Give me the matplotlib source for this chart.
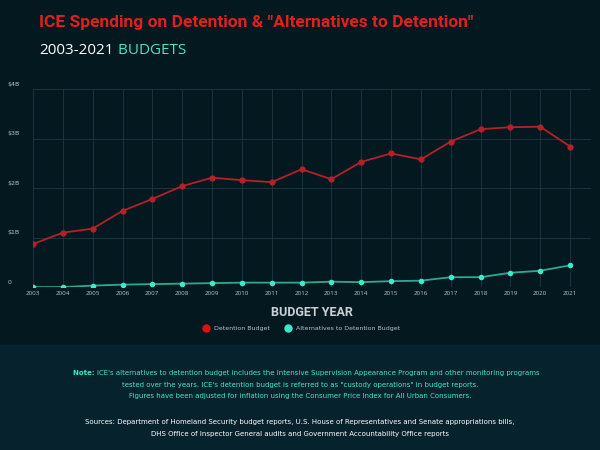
import matplotlib.pyplot as plt
from matplotlib.lines import Line2D

years = list(range(2003, 2022))
detention = [0.87, 1.10, 1.18, 1.54, 1.78, 2.04, 2.21, 2.16, 2.12, 2.38, 2.18,
             2.53, 2.70, 2.58, 2.94, 3.19, 3.23, 3.24, 2.84]
alternatives = [0.0, 0.0, 0.03, 0.05, 0.06, 0.07, 0.08, 0.09, 0.09, 0.09, 0.11,
                0.10, 0.12, 0.13, 0.20, 0.20, 0.29, 0.33, 0.44]
y_ticks = [0, 1, 2, 3, 4]
y_labels = ['0', '$1B', '$2B', '$3B', '$4B']

BG = '#041820'
PANEL = '#06222d'
RED = '#b5202a'
TEAL = '#3ee8c8'

fig = plt.figure(figsize=(6, 4.5), dpi=100, facecolor=BG)
fig.patches.append(plt.Rectangle((0, 0), 1, 1 - 345 / 450, transform=fig.transFigure,
                                 color=PANEL, zorder=0))

ax = fig.add_axes([0.055, 0.362, 0.93, 0.44])
ax.set_facecolor(BG)
ax.plot(years, detention, color=RED, lw=1.3, marker='o', ms=3.5, zorder=3)
ax.plot(years, alternatives, color='#2fa893', lw=1.3, marker='o', ms=3,
        mfc=TEAL, mec=TEAL, zorder=3)
ax.set_xlim(2003, 2021.7)
ax.set_ylim(0, 4)
ax.set_xticks(years)
ax.set_xticklabels([str(y) for y in years], fontsize=4.5, color='#b8c4c8',
                   family='Open Sans')
ax.set_yticks(y_ticks)
ax.set_yticklabels([])
for t, l in zip(y_ticks, y_labels):
    ax.text(-0.045, t + 0.05, l, transform=ax.get_yaxis_transform(), fontsize=4.5,
            color='#b8c4c8', va='bottom', ha='left')
ax.grid(color='#1e3842', lw=0.6)
ax.tick_params(length=0, pad=3)
for s in ax.spines.values():
    s.set_visible(False)
ax.set_xlabel('BUDGET YEAR', fontsize=9, color='#c8d0d4', fontweight='bold',
              family='Roboto', labelpad=7)

handles = [Line2D([0], [0], marker='o', color='none', mfc='#e01010', mec='#e01010', ms=5,
                  label='Detention Budget'),
           Line2D([0], [0], marker='o', color='none', mfc=TEAL, mec=TEAL, ms=5,
                  label='Alternatives to Detention Budget')]
fig.legend(handles=handles, loc='center', bbox_to_anchor=(0.5, 1 - 328 / 450), ncol=2,
           frameon=False, fontsize=4.5, labelcolor='#b8c4c8', handletextpad=0.3,
           columnspacing=2)

fig.text(0.065, 1 - 22 / 450, 'ICE Spending on Detention & "Alternatives to Detention"',
         fontsize=12.5, color='#e0201c', fontweight='bold', va='center', family='Roboto')
sub = fig.text(0.065, 1 - 50 / 450, '2003-2021', fontsize=11, color='white', va='center',
               family='Open Sans')
fig.text(0, 0.5, ' BUDGETS', fontsize=11, color=TEAL, va='center', family='Open Sans',
         transform=sub.get_transform())
fig.texts[-1].remove()
fig.add_artist(plt.Annotation(' BUDGETS', xy=(1, 0.5), xycoords=sub, va='center',
                              fontsize=11, color=TEAL, family='Open Sans'))

note_y = 1 - 373 / 450
note = fig.text(0.53, note_y, "ICE's alternatives to detention budget includes the Intensive "
                "Supervision Appearance Program and other monitoring programs", fontsize=5,
                color=TEAL, ha='center', va='center')
fig.add_artist(plt.Annotation('Note: ', xy=(0, 0.5), xycoords=note, ha='right', va='center',
                              fontsize=5, color=TEAL, fontweight='bold'))
fig.text(0.5, 1 - 385 / 450, "tested over the years. ICE's detention budget is referred to as "
         "\"custody operations\" in budget reports.", fontsize=5, color=TEAL, ha='center',
         va='center')
fig.text(0.5, 1 - 396 / 450, "Figures have been adjusted for inflation using the Consumer "
         "Price Index for All Urban Consumers.", fontsize=5, color=TEAL, ha='center',
         va='center')
fig.text(0.5, 1 - 422 / 450, "Sources: Department of Homeland Security budget reports, U.S. House "
         "of Representatives and Senate appropriations bills,", fontsize=5, color='white',
         ha='center', va='center')
fig.text(0.5, 1 - 434 / 450, "DHS Office of Inspector General audits and Government "
         "Accountability Office reports", fontsize=5, color='white', ha='center', va='center')

fig.savefig('out.png', dpi=100, facecolor=BG)
